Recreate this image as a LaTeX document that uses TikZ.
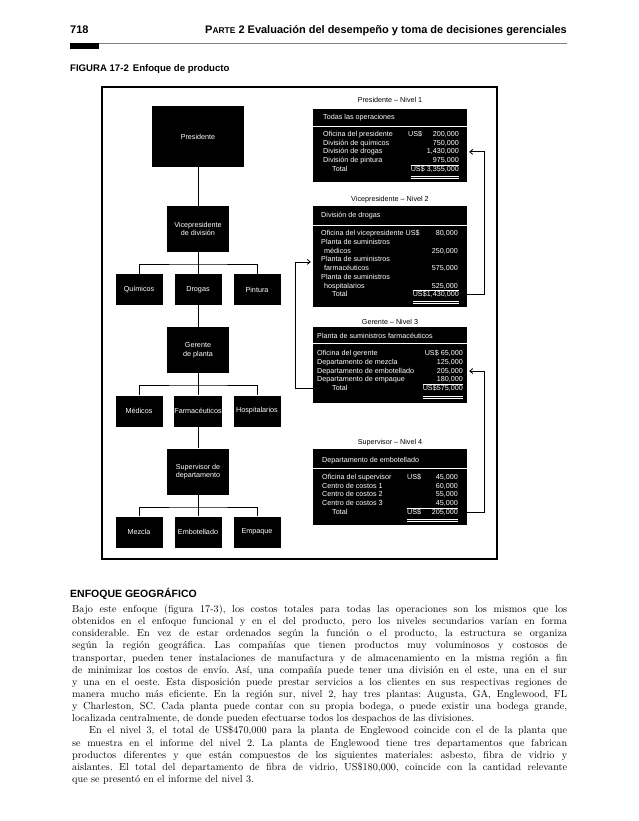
\documentclass[tikz,border=0pt]{standalone}
\usepackage{fontspec}
\setsansfont{Liberation Sans}
\usepackage{tikz}
\usetikzlibrary{arrows.meta}

\newcommand{\dfont}{\sffamily\fontsize{7.2}{8.5}\selectfont}

\begin{document}
\begin{tikzpicture}[x=1pt,y=-1pt,>={Straight Barb[length=3pt,width=5pt]},
 obox/.style={fill=black,text=white,font=\dfont,align=center,inner sep=0pt},
 big/.style={obox,minimum width=92pt,minimum height=61pt},
 mid/.style={obox,minimum width=62pt,minimum height=46pt},
 small/.style={obox,minimum width=47pt,minimum height=31pt},
 tree/.style={draw=black,line width=0.9pt},
 rbox/.style={fill=black,minimum width=154pt,inner sep=0pt},
 ttl/.style={font=\dfont,inner sep=0pt},
 lbl/.style={anchor=base west,text=white,font=\dfont,inner sep=0pt},
 amt/.style={anchor=base east,text=white,font=\dfont,inner sep=0pt},
 rule/.style={draw=white,line width=0.5pt},
 flow/.style={->,line width=0.8pt,shorten >=2pt}]
\useasboundingbox[fill=white] (0,0) rectangle (638,821);
% running head
\node[anchor=base west,inner sep=0pt,font=\sffamily\bfseries\fontsize{11}{13}\selectfont] (page) at (70,34) {718};
\node[anchor=base east,inner sep=0pt,font=\sffamily\bfseries\fontsize{11}{13}\selectfont] (run) at (567,34)
 {P{\fontsize{8.4}{10}\selectfont ARTE} 2 Evaluación del desempeño y toma de decisiones gerenciales};
\fill (70,43) rectangle (99,49);
\draw[gray,line width=0.6pt] (99,43.3) -- (567,43.3);
\node[anchor=base west,inner sep=0pt,font=\sffamily\bfseries\fontsize{9.6}{11}\selectfont] (cap) at (70,72)
 {FIGURA 17-2\hspace{4pt}Enfoque de producto};
\draw[line width=1.3pt] (102,87) rectangle (497,559);
% organization chart
\node[big] (pres) at (198,136.5) {Presidente};
\node[mid] (vp) at (198,229) {Vicepresidente\\de división};
\node[small] (quim) at (139,289.5) {Químicos};
\node[small] (drog) at (198,289.5) {Drogas};
\node[small] (pint) at (257,289.5) {Pintura};
\node[mid] (ger) at (198,350) {Gerente\\de planta};
\node[small] (med) at (139,411) {Médicos};
\node[small] (farm) at (198,411) {Farmacéuticos};
\node[small] (hosp) at (257,411) {Hospitalarios};
\node[mid] (sup) at (198,471.5) {Supervisor de\\departamento};
\node[small] (mez) at (139,532) {Mezcla};
\node[small] (emb) at (198,532) {Embotellado};
\node[small] (emp) at (257,532) {Empaque};
\coordinate (b1) at (198,264);
\coordinate (b2) at (198,385);
\coordinate (b3) at (198,507);
\draw[tree] (pres) -- (vp);
\draw[tree] (vp) -- (drog);
\draw[tree] (quim.north) |- (b1) -| (pint.north);
\draw[tree] (drog) -- (ger);
\draw[tree] (ger) -- (farm);
\draw[tree] (med.north) |- (b2) -| (hosp.north);
\draw[tree] (farm) -- (sup);
\draw[tree] (sup) -- (emb);
\draw[tree] (mez.north) |- (b3) -| (emp.north);
% level 1 report
\node[ttl] (t1) at (390,100) {Presidente – Nivel 1};
\node[rbox,minimum height=73pt] (n1) at (390,145.5) {};
\draw[rule] ([yshift=-17pt]n1.north west) -- ([yshift=-17pt]n1.north east);
\node[lbl] (h1) at (323,119.5) {Todas las operaciones};
\node[lbl] (l1a) at (323,136.5) {Oficina del presidente};
\node[lbl] (u1a) at (408,136.5) {US\$};
\node[amt] (v1a) at (459,136.5) {200,000};
\node[lbl] (l1b) at (323,145.2) {División de químicos};
\node[amt] (v1b) at (459,145.2) {750,000};
\node[lbl] (l1c) at (323,153.9) {División de drogas};
\node[amt] (v1c) at (459,153.9) {1,430,000};
\node[lbl] (l1d) at (323,162.6) {División de pintura};
\node[amt] (v1d) at (459,162.6) {975,000};
\node[lbl] (l1e) at (332,171.3) {Total};
\node[amt] (v1e) at (459,171.3) {US\$ 3,355,000};
\draw[rule] (v1e.west |- 0,164.8) -- (v1e.east |- 0,164.8);
\draw[rule] (v1e.west |- 0,176.5) -- (v1e.east |- 0,176.5);
\draw[rule] (v1e.west |- 0,178.5) -- (v1e.east |- 0,178.5);
% level 2 report
\node[ttl] (t2) at (390,200) {Vicepresidente – Nivel 2};
\node[rbox,minimum height=101pt] (n2) at (390,256.5) {};
\draw[rule] ([yshift=-19pt]n2.north west) -- ([yshift=-19pt]n2.north east);
\node[lbl] (h2) at (321,217.5) {División de drogas};
\node[lbl] (l2a) at (321,235.8) {Oficina del vicepresidente US\$};
\node[amt] (v2a) at (458,235.8) {80,000};
\node[lbl] (l2b) at (321,244.5) {Planta de suministros};
\node[lbl] (l2c) at (324,253.2) {médicos};
\node[amt] (v2c) at (458,253.2) {250,000};
\node[lbl] (l2d) at (321,261.9) {Planta de suministros};
\node[lbl] (l2e) at (324,270.6) {farmacéuticos};
\node[amt] (v2e) at (458,270.6) {575,000};
\node[lbl] (l2f) at (321,279.3) {Planta de suministros};
\node[lbl] (l2g) at (324,288) {hospitalarios};
\node[amt] (v2g) at (458,288) {525,000};
\node[lbl] (l2h) at (332,296.7) {Total};
\node[amt] (v2h) at (459,296.7) {US\$1,430,000};
\draw[rule] (v2h.west |- 0,290.2) -- (v2h.east |- 0,290.2);
\draw[rule] (v2h.west |- 0,300.8) -- (v2h.east |- 0,300.8);
\draw[rule] (v2h.west |- 0,302.8) -- (v2h.east |- 0,302.8);
% level 3 report
\node[ttl] (t3) at (390,322) {Gerente – Nivel 3};
\node[rbox,minimum height=76pt] (n3) at (390,365) {};
\draw[rule] ([yshift=-16pt]n3.north west) -- ([yshift=-16pt]n3.north east);
\node[lbl] (h3) at (317,338.5) {Planta de suministros farmacéuticos};
\node[lbl] (l3a) at (317,355.5) {Oficina del gerente};
\node[amt] (v3a) at (463,355.5) {US\$ 65,000};
\node[lbl] (l3b) at (317,364.3) {Departamento de mezcla};
\node[amt] (v3b) at (463,364.3) {125,000};
\node[lbl] (l3c) at (317,373.1) {Departamento de embotellado};
\node[amt] (v3c) at (463,373.1) {205,000};
\node[lbl] (l3d) at (317,381.9) {Departamento de empaque};
\node[amt] (v3d) at (463,381.9) {180,000};
\node[lbl] (l3e) at (332,390.7) {Total};
\node[amt] (v3e) at (463,390.7) {US\$575,000};
\draw[rule] (v3e.west |- 0,384.2) -- (v3e.east |- 0,384.2);
\draw[rule] (v3e.west |- 0,395.8) -- (v3e.east |- 0,395.8);
\draw[rule] (v3e.west |- 0,397.8) -- (v3e.east |- 0,397.8);
% level 4 report
\node[ttl] (t4) at (390,443) {Supervisor – Nivel 4};
\node[rbox,minimum height=76pt] (n4) at (390,487) {};
\draw[rule] ([yshift=-19pt]n4.north west) -- ([yshift=-19pt]n4.north east);
\node[lbl] (h4) at (322,462.5) {Departamento de embotellado};
\node[lbl] (l4a) at (322,479.5) {Oficina del supervisor};
\node[lbl] (u4a) at (407,479.5) {US\$};
\node[amt] (v4a) at (458,479.5) {45,000};
\node[lbl] (l4b) at (322,488.2) {Centro de costos 1};
\node[amt] (v4b) at (458,488.2) {60,000};
\node[lbl] (l4c) at (322,496.9) {Centro de costos 2};
\node[amt] (v4c) at (458,496.9) {55,000};
\node[lbl] (l4d) at (322,505.6) {Centro de costos 3};
\node[amt] (v4d) at (458,505.6) {45,000};
\node[lbl] (l4e) at (332,514.3) {Total};
\node[lbl] (u4e) at (407,514.3) {US\$};
\node[amt] (v4e) at (458,514.3) {205,000};
\draw[rule] (u4e.west |- 0,507.8) -- (v4e.east |- 0,507.8);
\draw[rule] (u4e.west |- 0,519.2) -- (v4e.east |- 0,519.2);
\draw[rule] (u4e.west |- 0,521.2) -- (v4e.east |- 0,521.2);
% roll-up arrows
\draw[flow] (n2.east |- v2h) -- ++(17,0) |- (n1.east |- v1c);
\draw[flow] (n4.east |- v4e) -- ++(17,0) |- (n3.east |- v3c);
\draw[flow] (n3.west |- v3e) -- ++(-17,0) |- (n2.west |- l2d.base);
% text below the figure
\node[anchor=base west,inner sep=0pt,font=\sffamily\bfseries\fontsize{10.5}{12}\selectfont] (sec) at (70,597.8)
 {ENFOQUE GEOGRÁFICO};
\node[anchor=north west,inner sep=0pt,text width=495pt,align=justify,font=\fontsize{10.2}{12.14}\selectfont\frenchspacing] (body) at (72,604.7)
 {Bajo este enfoque (figura 17-3), los costos totales para todas las operaciones son los mismos que los\linebreak
 obtenidos en el enfoque funcional y en el del producto, pero los niveles secundarios varían en forma\linebreak
 considerable. En vez de estar ordenados según la función o el producto, la estructura se organiza\linebreak
 según la región geográfica. Las compañías que tienen productos muy voluminosos y costosos de\linebreak
 transportar, pueden tener instalaciones de manufactura y de almacenamiento en la misma región a fin\linebreak
 de minimizar los costos de envío. Así, una compañía puede tener una división en el este, una en el sur\linebreak
 y una en el oeste. Esta disposición puede prestar servicios a los clientes en sus respectivas regiones de\linebreak
 manera mucho más eficiente. En la región sur, nivel 2, hay tres plantas: Augusta, GA, Englewood, FL\linebreak
 y Charleston, SC. Cada planta puede contar con su propia bodega, o puede existir una bodega grande,\linebreak
 localizada centralmente, de donde pueden efectuarse todos los despachos de las divisiones.\par
 \hspace*{17pt}En el nivel 3, el total de US\$470,000 para la planta de Englewood coincide con el de la planta que\linebreak
 se muestra en el informe del nivel 2. La planta de Englewood tiene tres departamentos que fabrican\linebreak
 productos diferentes y que están compuestos de los siguientes materiales: asbesto, fibra de vidrio y\linebreak
 aislantes. El total del departamento de fibra de vidrio, US\$180,000, coincide con la cantidad relevante\linebreak
 que se presentó en el informe del nivel 3.};
\end{tikzpicture}
\end{document}
